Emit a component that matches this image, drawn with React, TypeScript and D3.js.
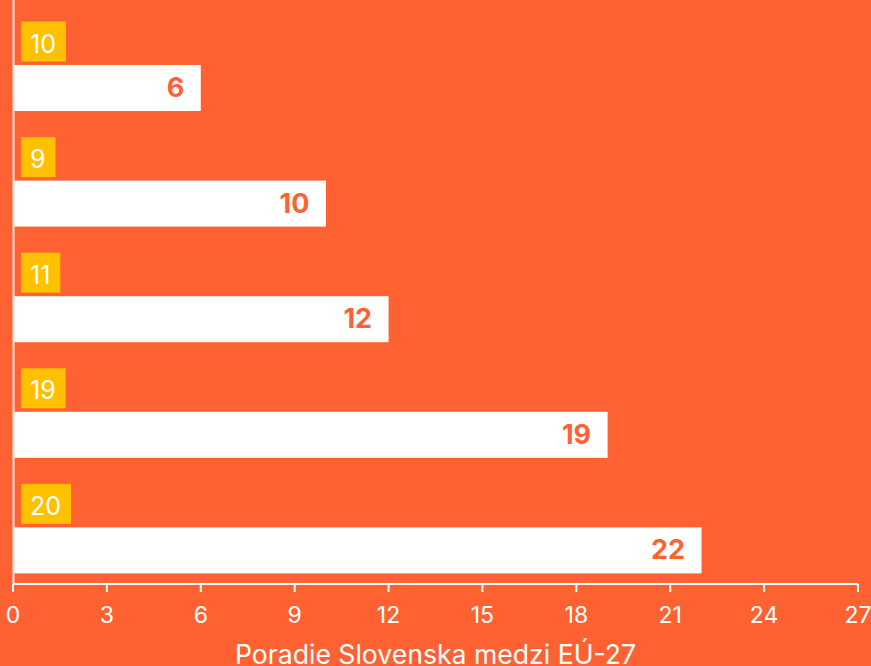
import React, { useLayoutEffect, useRef, useState } from "react";
import * as d3 from "d3";

const categories = ["A", "B", "C", "D", "E"];
const values = [6, 10, 12, 19, 22];
const badgeValues = [10, 9, 11, 19, 20];
const xTicks = [0, 3, 6, 9, 12, 15, 18, 21, 24, 27];
const axisTitle = "Poradie Slovenska medzi EÚ-27";

const W = 871;
const H = 666;
const BG = "#FF6232";
const YELLOW = "#FFC000";
const FONT = "Inter, 'Noto Sans', sans-serif";

function Badge({ x, y, label }: { x: number; y: number; label: string }) {
  const ref = useRef<SVGTextElement>(null);
  const [w, setW] = useState(label.length * 14);
  useLayoutEffect(() => {
    if (ref.current) setW(ref.current.getComputedTextLength());
  }, [label]);
  return (
    <g>
      <rect x={x} y={y} width={w + 19} height={40} fill={YELLOW} />
      <text ref={ref} x={x + 9} y={y + 31} fill="#fff" fontSize={25}>
        {label}
      </text>
    </g>
  );
}

export default function App() {
  const x = d3.scaleLinear().domain([0, 27]).range([13, 858]);
  const y = d3.scaleBand<string>().domain(categories).range([0, 578]);
  const axisY = 584;

  return (
    <svg
      width={W}
      height={H}
      style={{ position: "absolute", left: 0, top: 0, fontFamily: FONT }}
    >
      <rect x={0} y={0} width={W} height={H} fill={BG} />
      {categories.map((c, i) => {
        const y0 = y(c)!;
        return (
          <g key={c}>
            <Badge x={21} y={y0 + 21.5} label={String(badgeValues[i])} />
            <rect
              x={x(0)}
              y={y0 + 65}
              width={x(values[i]) - x(0)}
              height={46}
              fill="#fff"
            />
            <text
              x={x(values[i]) - 16.5}
              y={y0 + 97}
              fill={BG}
              fontSize={27}
              fontWeight={700}
              textAnchor="end"
            >
              {values[i]}
            </text>
          </g>
        );
      })}
      <line x1={13.5} x2={13.5} y1={0} y2={axisY} stroke="#f4e4dc" strokeWidth={2} />
      <line x1={x(0)} x2={x(27)} y1={axisY} y2={axisY} stroke="#fff" strokeWidth={2} />
      {xTicks.map((t) => (
        <g key={t}>
          <line x1={x(t)} x2={x(t)} y1={axisY} y2={axisY + 8} stroke="#fff" strokeWidth={2} />
          <text x={x(t)} y={623} fill="#fff" fontSize={23} textAnchor="middle">
            {t}
          </text>
        </g>
      ))}
      <text x={(x(0) + x(27)) / 2} y={664} fill="#fff" fontSize={26.6} textAnchor="middle">
        {axisTitle}
      </text>
    </svg>
  );
}
